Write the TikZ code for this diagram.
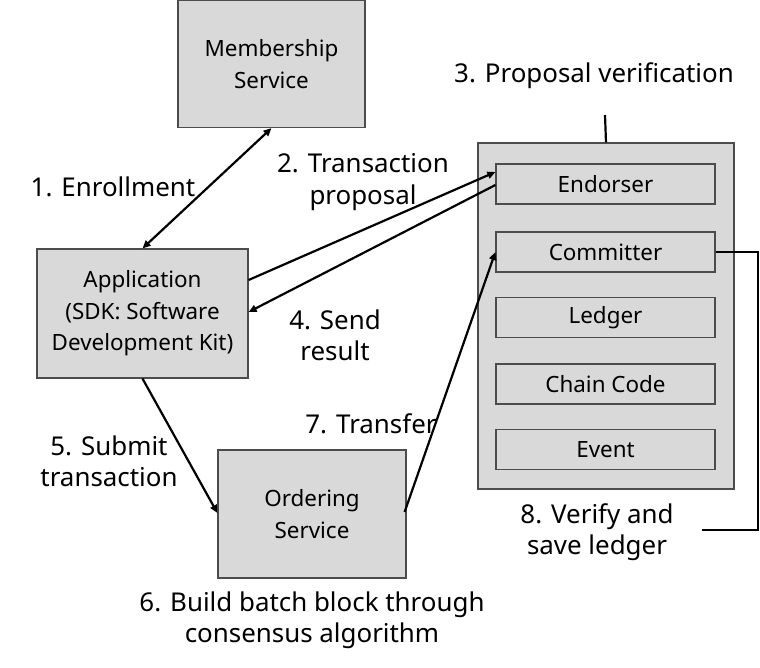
\documentclass[tikz,border=0pt]{standalone}
\usepackage{fontspec}
\setmainfont{Noto Sans}
\usetikzlibrary{arrows.meta,calc}
\begin{document}
\begin{tikzpicture}[x=1bp,y=-1bp,
  box/.style={draw=black!70, fill=black!15, line width=1.2bp, inner sep=0pt, align=center,
    font=\fontsize{22.5}{31.5}\selectfont},
  inbox/.style={box, minimum width=219bp, minimum height=40bp},
  lbl/.style={align=center, inner sep=0pt, font=\fontsize{26}{31.5}\selectfont},
  conn/.style={line width=2.2bp, draw=black},
  arr/.style={conn, -{Triangle[length=8bp,width=7bp]}},
  darr/.style={conn, {Triangle[length=8bp,width=7bp]}-{Triangle[length=8bp,width=7bp]}}]
\useasboundingbox (0,0) rectangle (760,668);
\fill[white] (0,0) rectangle (760,668);
% main boxes
\node[box, minimum width=187bp, minimum height=127bp] (ms) at (271.5,64) {Membership\\Service};
\node[box, minimum width=211bp, minimum height=129bp] (app) at (142.5,313.5) {Application\\(SDK: Software\\Development Kit)};
\node[box, minimum width=188bp, minimum height=128bp] (ord) at (312,514) {Ordering\\Service};
\node[box, minimum width=256bp, minimum height=346bp] (peer) at (606,316) {};
\node[inbox] (end) at (605.5,184) {Endorser};
\node[inbox] (com) at (605.5,252) {Committer};
\node[inbox] (led) at (605.5,317.5) {Ledger};
\node[inbox] (cc) at (605.5,384) {Chain Code};
\node[inbox] (ev) at (605.5,449.5) {Event};
% labels
\node[lbl] (l1) at (113,187) {1. Enrollment};
\node[lbl] (l2) at (363,182) {2. Transaction\\proposal};
\node[lbl] (l3) at (594,76) {3. Proposal verification};
\node[lbl] (l4) at (335,335) {4. Send\\result};
\node[lbl] (l5) at (109,461) {5. Submit\\transaction};
\node[lbl] (l6) at (312,620) {6. Build batch block through\\consensus algorithm};
\node[lbl] (l7) at (371,424) {7. Transfer};
\node[lbl] (l8) at (597,532) {8. Verify and\\save ledger};
% connectors
\draw[darr] (app.north) -- (ms.south);
\draw[arr] ($(app.east)+(0,-33.5)$) -- ($(end.west)+(0,-12)$);
\draw[arr] ($(end.west)+(0,1)$) -- ($(app.east)+(0,-1.5)$);
\draw[arr] (app.south) -- ($(ord.west)+(0,-1)$);
\draw[arr] ($(ord.east)+(-2,-2)$) -- (com.west);
\coordinate (c3) at (605,115);
\draw[conn] (c3) -- (peer.north);
\coordinate (c8) at (702,530);
\draw[conn] (com.east) -- (758,252) |- (c8);
\end{tikzpicture}
\end{document}
